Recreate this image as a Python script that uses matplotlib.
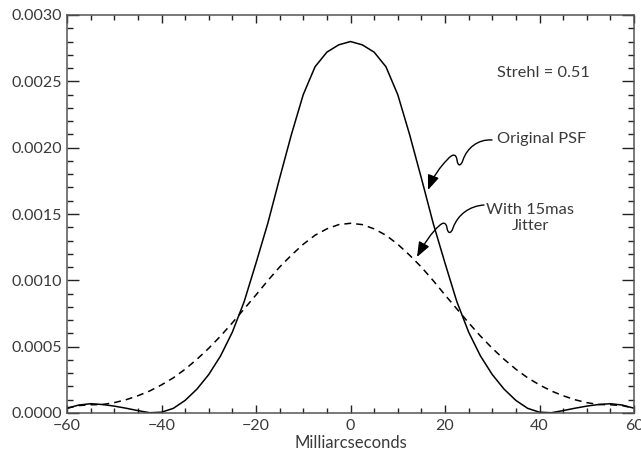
import matplotlib
matplotlib.use('Agg')
import matplotlib.pyplot as plt
from matplotlib.path import Path
from matplotlib.patches import FancyArrowPatch
from matplotlib.ticker import MultipleLocator, FormatStrFormatter
import matplotlib.transforms as mtransforms

# offset in milliarcseconds
mas = [-60, -57.5, -55, -52.5, -50, -47.5, -45, -42.5, -40, -37.5, -35, -32.5,
       -30, -27.5, -25, -22.5, -20, -17.5, -15, -12.5, -10, -7.5, -5, -2.5,
       0, 2.5, 5, 7.5, 10, 12.5, 15, 17.5, 20, 22.5, 25, 27.5, 30, 32.5,
       35, 37.5, 40, 42.5, 45, 47.5, 50, 52.5, 55, 57.5, 60]

# original PSF (solid)
psf_orig = [0.000036, 0.000060, 0.000070, 0.000064, 0.000052, 0.000036, 0.000018, 0.000002,
            0.000006, 0.000035, 0.000095, 0.000180, 0.000290, 0.000430, 0.000610, 0.000840,
            0.001130, 0.001430, 0.001770, 0.002100, 0.002400, 0.002610, 0.002720, 0.002775,
            0.002800,
            0.002775, 0.002720, 0.002610, 0.002400, 0.002100, 0.001770, 0.001430, 0.001130,
            0.000840, 0.000610, 0.000430, 0.000290, 0.000180, 0.000095, 0.000035, 0.000006,
            0.000002, 0.000018, 0.000036, 0.000052, 0.000064, 0.000070, 0.000060, 0.000036]

# PSF with 15 mas jitter (dashed)
psf_jit = [0.000036, 0.000056, 0.000062, 0.000064, 0.000078, 0.000100, 0.000130, 0.000166,
           0.000212, 0.000265, 0.000330, 0.000405, 0.000488, 0.000580, 0.000680, 0.000785,
           0.000890, 0.000998, 0.001100, 0.001190, 0.001272, 0.001340, 0.001388, 0.001420,
           0.001430,
           0.001420, 0.001388, 0.001340, 0.001272, 0.001190, 0.001100, 0.000998, 0.000890,
           0.000785, 0.000680, 0.000580, 0.000488, 0.000405, 0.000330, 0.000265, 0.000212,
           0.000166, 0.000130, 0.000100, 0.000078, 0.000064, 0.000062, 0.000056, 0.000036]

plt.rcParams['font.family'] = ['Lato', 'DejaVu Sans']
txt_col = '#3a3a3a'

fig = plt.figure(figsize=(6.41, 4.55), dpi=100)
ax = fig.add_axes([67/641, 1 - 413/455, (634 - 67)/641, (413 - 15)/455])

ax.plot(mas, psf_orig, color='black', lw=1.1)
ax.plot(mas, psf_jit, color='black', lw=1.1, linestyle=(0, (4.5, 3.3)))

ax.set_xlim(-60, 60)
ax.set_ylim(0, 0.003)
ax.xaxis.set_major_locator(MultipleLocator(20))
ax.xaxis.set_minor_locator(MultipleLocator(5))
ax.yaxis.set_major_locator(MultipleLocator(0.0005))
ax.yaxis.set_minor_locator(MultipleLocator(0.0001))
ax.yaxis.set_major_formatter(FormatStrFormatter('%.4f'))

ax.tick_params(axis='both', which='both', direction='in', top=True, right=True,
               labelsize=11.5, labelcolor=txt_col, color='#222222', width=1)
ax.tick_params(axis='x', which='major', length=5.5, pad=4)
ax.tick_params(axis='x', which='minor', length=3.8)
ax.tick_params(axis='y', which='major', length=8.5, pad=3.5)
ax.tick_params(axis='y', which='minor', length=4.5)
for sp in ax.spines.values():
    sp.set_color('#555555')
    sp.set_linewidth(1.1)

ax.set_xlabel('Milliarcseconds', fontsize=12, color=txt_col, labelpad=2)

# annotation text, placed in figure pixels (origin top-left)
pix = mtransforms.Affine2D().scale(1/641, -1/455).translate(0, 1) + fig.transFigure

fig.text(497, 73, 'Strehl = 0.51', transform=pix, fontsize=11.8, color=txt_col,
         ha='left', va='center')
fig.text(497, 139, 'Original PSF', transform=pix, fontsize=11.8, color=txt_col,
         ha='left', va='center')
fig.text(530, 218, 'With 15mas\nJitter', transform=pix, fontsize=11.8, color=txt_col,
         ha='center', va='center', linespacing=1.25)

C4 = Path.CURVE4
arrow1 = [(492, 140), (478, 139), (467, 148), (463, 160),
          (461, 166), (458, 167), (457, 160),
          (456, 153), (452, 154), (447, 160),
          (440, 167), (433, 177), (428, 190)]
arrow2 = [(484, 205), (470, 206), (458, 214), (453, 228),
          (451, 234), (448, 234), (447, 228),
          (446, 222), (443, 222), (439, 226),
          (432, 232), (424, 244), (417, 257)]
for verts in (arrow1, arrow2):
    codes = [Path.MOVETO] + [C4] * (len(verts) - 1)
    arr = FancyArrowPatch(path=Path(verts, codes), transform=pix,
                          arrowstyle='-|>,head_length=0.9,head_width=0.35',
                          mutation_scale=10, color='black', lw=1.0)
    fig.add_artist(arr)

fig.savefig('out.png', dpi=100)
